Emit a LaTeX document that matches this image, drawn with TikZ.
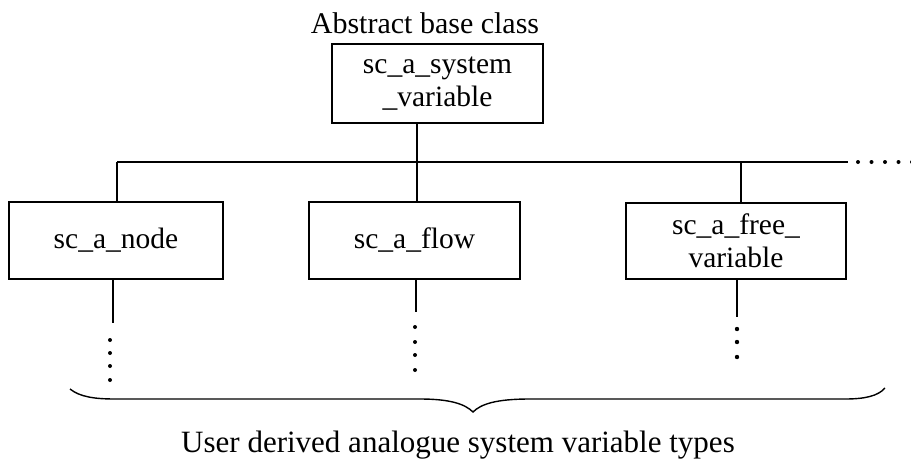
\documentclass[tikz,border=0pt]{standalone}
\usepackage{fontspec}
\setmainfont{Liberation Serif}
\newcommand\diagfont{\fontsize{29.5}{33}\selectfont}
\newcommand\titlefont{\fontsize{30}{34}\selectfont}
\newcommand\notefont{\fontsize{31}{35}\selectfont}
\begin{document}
\begin{tikzpicture}[x=1pt,y=-1pt,
  classbox/.style={draw, line width=1.5pt, inner sep=0pt, align=center, font=\diagfont},
  link/.style={line width=1.3pt},
  dotfill/.style={fill=black},
  caption/.style={inner sep=0pt, anchor=base}]
\useasboundingbox (0,0) rectangle (911,461);

% class boxes
\node[classbox, minimum width=211pt, minimum height=79pt] (base) at (437.5,83.5) {sc\_a\_system\\\_variable};
\node[classbox, minimum width=214pt, minimum height=77pt] (node) at (116,240.5) {sc\_a\_node};
\node[classbox, minimum width=211pt, minimum height=77pt] (flow) at (414.5,240.5) {sc\_a\_flow};
\node[classbox, minimum width=220pt, minimum height=76pt] (free) at (736,241) {sc\_a\_free\_\\variable};

% captions
\node[caption, font=\titlefont] (title) at (425,33) {Abstract base class};
\node[caption, font=\notefont] (users) at (458,452) {User derived analogue system variable types};

% inheritance bus
\coordinate (busL) at (117,162);
\coordinate (busM) at (417,162);
\coordinate (busR) at (741,162);
\coordinate (busEnd) at (848,162);
\draw[link] (busL) -- (busEnd);
\draw[link] (busM |- base.south) -- (busM) -- (busM |- flow.north);
\draw[link] (busL) -- (busL |- node.north);
\draw[link] (busR) -- (busR |- free.north);
\foreach \i in {0,...,4} \fill[dotfill] (858+13.5*\i,162) circle (2pt);

% further derivations
\coordinate (dnL) at (113,279);
\coordinate (dnM) at (416,279);
\coordinate (dnR) at (737,279);
\draw[link] (dnL) -- ++(0,44);
\draw[link] (dnM) -- ++(0,33);
\draw[link] (dnR) -- ++(0,38);
\foreach \y in {340,353,366,380} \fill[dotfill] (110,\y) circle (2pt);
\foreach \y in {327,342,355,370} \fill[dotfill] (415,\y) circle (2pt);
\foreach \y in {329,342,357} \fill[dotfill] (737,\y) circle (2.2pt);

% brace gathering the derived types
\draw[line width=1.4pt]
  (70,389) .. controls (80,397) and (95,399) .. (115,399)
  -- (420,399) .. controls (450,399) and (465,404) .. (473,412)
  .. controls (481,404) and (496,399) .. (530,399)
  -- (845,399) .. controls (865,399) and (878,396) .. (885,388);
\end{tikzpicture}
\end{document}
